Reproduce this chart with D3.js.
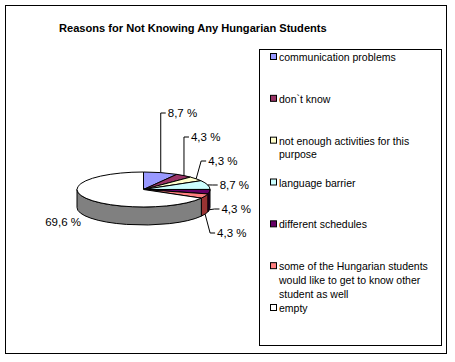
<!DOCTYPE html>
<html>
<head>
<meta charset="utf-8">
<script src="https://cdn.jsdelivr.net/npm/d3@7"></script>
<style>
  body { margin: 0; background: #fff; }
  text { font-family: "Liberation Sans", Arial, sans-serif; }
</style>
</head>
<body>
<svg id="chart" width="455" height="362"></svg>
<script>
// data
var categories = ["communication problems", "don`t know", "not enough activities for this purpose",
  "language barrier", "different schedules",
  "some of the Hungarian students would like to get to know other student as well", "empty"];
var legendLines = [["communication problems"], ["don`t know"], ["not enough activities for this", "purpose"],
  ["language barrier"], ["different schedules"],
  ["some of the Hungarian students", "would like to get to know other", "student as well"], ["empty"]];
var values = [8.7, 4.3, 4.3, 8.7, 4.3, 4.3, 69.6];
var topColors = ["#9999FF", "#993366", "#FFFFCC", "#CCFFFF", "#660066", "#FF8080", "#FFFFFF"];
var sideColors = ["#4d4d80", "#4d1933", "#808066", "#668080", "#330033", "#993333", "#808080"];

var svg = d3.select("#chart");

// frame
svg.append("rect").attr("x", 5.5).attr("y", 5.5).attr("width", 441).attr("height", 348)
  .attr("fill", "#fff").attr("stroke", "#000").attr("stroke-width", 1);

svg.append("text").attr("x", 59).attr("y", 32)
  .attr("font-size", "11.1px").attr("font-weight", "bold")
  .text("Reasons for Not Knowing Any Hungarian Students");

// 3d pie geometry
var cx = 143.5, cy = 189.5, rx = 66.5, ry = 17.5, depth = 18;
function pt(a, dz) { return [cx + rx * Math.sin(a), cy - ry * Math.cos(a) + (dz || 0)]; }

var pie = d3.pie().sort(null).value(function(d) { return d; });
var arcs = pie(values);

var g = svg.append("g");

// sides (front half only)
arcs.forEach(function(d, i) {
  var a0 = Math.max(d.startAngle, Math.PI / 2), a1 = Math.min(d.endAngle, 3 * Math.PI / 2);
  if (a1 <= a0) return;
  var p0 = pt(a0), p1 = pt(a1), q1 = pt(a1, depth), q0 = pt(a0, depth);
  var path = "M" + p0 + "A" + rx + "," + ry + " 0 0 1 " + p1 + "L" + q1 +
    "A" + rx + "," + ry + " 0 0 0 " + q0 + "Z";
  g.append("path").attr("d", path).attr("fill", sideColors[i])
    .attr("stroke", "#000").attr("stroke-width", 1).attr("stroke-linejoin", "round");
});

// top faces
arcs.forEach(function(d, i) {
  var p0 = pt(d.startAngle), p1 = pt(d.endAngle);
  var large = (d.endAngle - d.startAngle) > Math.PI ? 1 : 0;
  var path = "M" + [cx, cy] + "L" + p0 + "A" + rx + "," + ry + " 0 " + large + " 1 " + p1 + "Z";
  g.append("path").attr("d", path).attr("fill", topColors[i])
    .attr("stroke", "#000").attr("stroke-width", 1).attr("stroke-linejoin", "round");
});

// labels with leader lines
var fmt = function(v) { return d3.format(".1f")(v).replace(".", ",") + " %"; };
var rightIdx = arcs.map(function(d, i) { return i; }).filter(function(i) {
  var m = (arcs[i].startAngle + arcs[i].endAngle) / 2; return m < Math.PI;
});
var labelY = d3.scaleLinear().domain([0, rightIdx.length - 1]).range([113, 233]);

arcs.forEach(function(d, i) {
  var m = (d.startAngle + d.endAngle) / 2;
  var front = m > Math.PI / 2 && m < 3 * Math.PI / 2;
  var a = pt(m, front ? depth : 0);
  if (m < Math.PI) {
    var ly = labelY(rightIdx.indexOf(i));
    var ex = a[0] + (Math.abs(ly - a[1]) < 25 ? 5 : 0);
    g.append("path").attr("d", "M" + a + "L" + [ex, ly] + "L" + [ex + 5, ly])
      .attr("fill", "none").attr("stroke", "#000").attr("stroke-width", 1);
    g.append("text").attr("x", ex + 7).attr("y", ly + 4).attr("font-size", "11.5px").text(fmt(values[i]));
  } else {
    g.append("text").attr("x", a[0] - 5).attr("y", a[1] + 9.5).attr("text-anchor", "end")
      .attr("font-size", "11.5px").text(fmt(values[i]));
  }
});

// legend
svg.append("rect").attr("x", 259.5).attr("y", 49.5).attr("width", 182).attr("height", 296)
  .attr("fill", "#fff").attr("stroke", "#000").attr("stroke-width", 1);

var legendY = d3.scaleLinear().domain([0, categories.length - 1]).range([57, 308]);
var items = svg.append("g").selectAll("g").data(categories).join("g")
  .attr("transform", function(d, i) { return "translate(0," + legendY(i) + ")"; });
items.append("rect").attr("x", 270.5).attr("y", -3.5).attr("width", 6).attr("height", 6)
  .attr("fill", function(d, i) { return topColors[i]; }).attr("stroke", "#000");
items.append("text").attr("font-size", "10.5px")
  .selectAll("tspan").data(function(d, i) { return legendLines[i]; }).join("tspan")
  .attr("x", 279).attr("y", function(d, j) { return 4 + j * 13.8; })
  .text(function(d) { return d; });
</script>
</body>
</html>
